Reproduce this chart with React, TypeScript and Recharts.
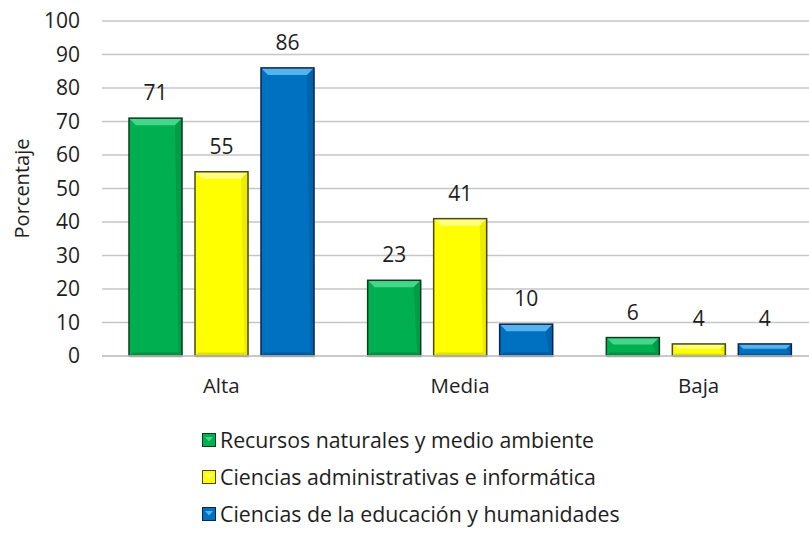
import { BarChart, Bar, XAxis, YAxis, CartesianGrid, LabelList } from 'recharts'

const categories = ['Alta', 'Media', 'Baja']
const recursos = [71, 22.6, 5.5]
const ciencias = [55, 41, 3.6]
const educacion = [86, 9.5, 3.6]
const yTicks = [0, 10, 20, 30, 40, 50, 60, 70, 80, 90, 100]

const FONT = '"Open Sans", "Liberation Sans", sans-serif'
const INK = '#1e1e1e'

type Serie = {
  key: string
  name: string
  fill: string
  light: string
  dark: string
  stroke: string
}

const series: Serie[] = [
  { key: 'recursos', name: 'Recursos naturales y medio ambiente', fill: '#00B050', light: '#45D68A', dark: '#03903F', stroke: '#0B3B1E' },
  { key: 'ciencias', name: 'Ciencias administrativas e informática', fill: '#FFFF00', light: '#FFFF80', dark: '#E0E000', stroke: '#4A4A10' },
  { key: 'educacion', name: 'Ciencias de la educación y humanidades', fill: '#0070C0', light: '#55B4EE', dark: '#005A9E', stroke: '#0B2452' },
]

const data = categories.map((c, i) => ({
  name: c,
  recursos: recursos[i],
  ciencias: ciencias[i],
  educacion: educacion[i],
}))

// Excel-ish bevel: lighter top trapezoid, darker bottom edge, dark outline
function bevelShape(s: Serie) {
  return (props: any) => {
    const { x, y, width: w, height: h } = props
    if (!h || h <= 0) return <g />
    const b = Math.min(7, h / 2.5)
    return (
      <g>
        <rect x={x + 1} y={y + 2} width={w} height={h} fill="#000" opacity={0.08} />
        <rect x={x} y={y} width={w} height={h} fill={s.fill} />
        <polygon points={`${x},${y} ${x + w},${y} ${x + w - b},${y + b} ${x + b},${y + b}`} fill={s.light} />
        <polygon points={`${x},${y + h} ${x + w},${y + h} ${x + w - b * 0.5},${y + h - b * 0.5} ${x + b * 0.5},${y + h - b * 0.5}`} fill={s.dark} />
        <polygon points={`${x + w},${y} ${x + w},${y + h} ${x + w - b * 0.5},${y + h - b * 0.5} ${x + w - b},${y + b}`} fill={s.dark} opacity={0.6} />
        <rect x={x} y={y} width={w} height={h} fill="none" stroke={s.stroke} strokeWidth={1.5} />
      </g>
    )
  }
}

function LegendIcon({ s }: { s: Serie }) {
  return (
    <svg width={14} height={14} style={{ display: 'block' }}>
      <rect x={0.5} y={0.5} width={13} height={13} fill={s.fill} stroke={s.stroke} />
      <polygon points="3,4 11,4 7,8.5" fill={s.light} />
    </svg>
  )
}

export default function App() {
  return (
    <div style={{ position: 'absolute', left: 0, top: 0, width: 809, height: 543, overflow: 'hidden', background: '#fff', fontFamily: FONT }}>
      <BarChart
        width={818}
        height={543}
        data={data}
        margin={{ top: 21, right: 0, bottom: 157, left: 0 }}
        barSize={53}
        barGap={13}
      >
        <CartesianGrid vertical={false} stroke="#C6C6C6" strokeWidth={1.5} />
        <XAxis
          dataKey="name"
          height={30}
          tickLine={false}
          axisLine={{ stroke: '#C6C6C6', strokeWidth: 1.5 }}
          tickMargin={16}
          tick={{ fontSize: 20.5, fill: INK, fontFamily: FONT }}
        />
        <YAxis
          width={102}
          domain={[0, 100]}
          ticks={yTicks}
          tickLine={false}
          axisLine={false}
          tickMargin={16}
          tick={{ fontSize: 21, fill: INK, fontFamily: FONT }}
          label={{
            value: 'Porcentaje',
            angle: -90,
            position: 'insideLeft',
            offset: 22,
            style: { textAnchor: 'middle', fontSize: 20, fill: INK, fontFamily: FONT },
          }}
        />
        {series.map(s => (
          <Bar key={s.key} dataKey={s.key} name={s.name} fill={s.fill} shape={bevelShape(s)} isAnimationActive={false}>
            <LabelList
              dataKey={s.key}
              position="top"
              offset={18}
              formatter={(v: any) => Math.round(Number(v))}
              style={{ fontSize: 21, fill: INK, fontFamily: FONT }}
            />
          </Bar>
        ))}
      </BarChart>
      <div style={{ position: 'absolute', left: 202, top: 421 }}>
        {series.map(s => (
          <div key={s.key} style={{ display: 'flex', alignItems: 'center', height: 37, fontSize: 21.3, color: INK }}>
            <LegendIcon s={s} />
            <span style={{ marginLeft: 4 }}>{s.name}</span>
          </div>
        ))}
      </div>
    </div>
  )
}
